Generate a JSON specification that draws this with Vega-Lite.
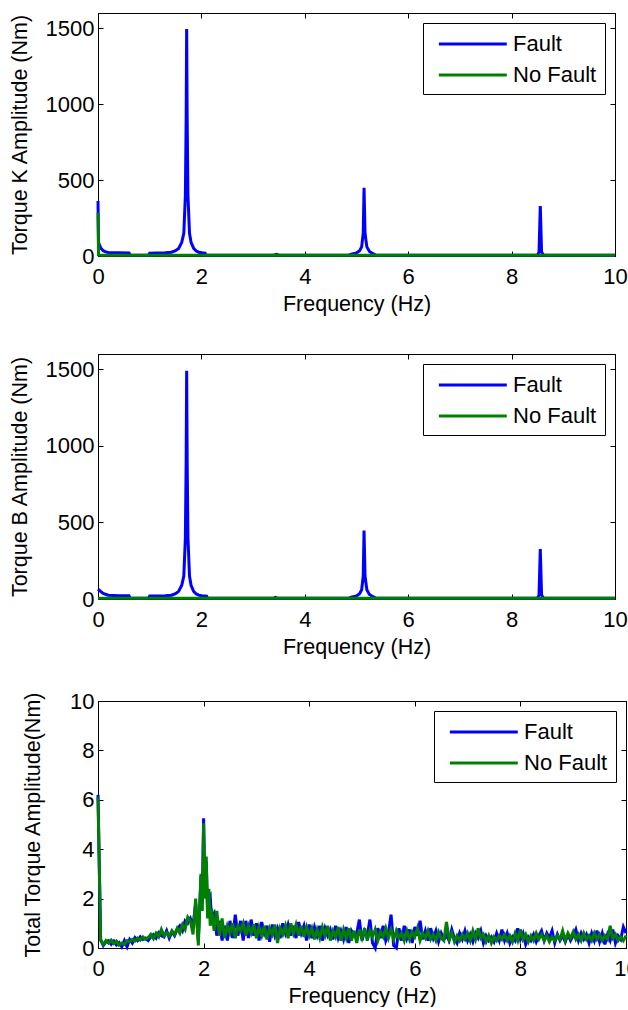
{
  "$schema": "https://vega.github.io/schema/vega-lite/v6.json",
  "background": "white",
  "padding": {"left": 8, "top": 12, "right": 0, "bottom": 0},
  "config": {
    "font": "Liberation Sans",
    "view": {"stroke": "black", "strokeWidth": 1},
    "axis": {
      "labelFont": "Liberation Sans", "titleFont": "Liberation Sans",
      "labelFontSize": 22, "titleFontSize": 21.5, "titleFontWeight": "normal",
      "labelColor": "black", "titleColor": "black",
      "domainColor": "black", "tickColor": "black", "domainWidth": 1, "tickWidth": 1,
      "grid": false, "tickSize": -5
    },
    "axisX": {"labelPadding": 15, "titlePadding": 6, "labelFlush": false},
    "axisY": {"labelPadding": 9, "titlePadding": 14, "format": "d"},
    "legend": {
      "orient": "top-right", "offset": 10, "title": null,
      "strokeColor": "black", "fillColor": "white", "padding": 8,
      "labelFont": "Liberation Sans", "labelFontSize": 22, "labelColor": "black",
      "symbolType": "M-0.46,0H5.62", "symbolSize": 499, "symbolStrokeWidth": 3,
      "rowPadding": 7, "labelOffset": 56, "cornerRadius": 0
    },
    "line": {"strokeWidth": 3}
  },
  "columns": 1,
  "align": "none",
  "spacing": 31,
  "resolve": {"scale": {"color": "independent"}, "legend": {"color": "independent"}},
  "concat": [
    {
      "resolve": {"scale": {"color": "independent"}, "legend": {"color": "independent"}},
      "vconcat": [
        {
          "width": 517, "height": 243,
          "data": {"values": [
            {"f": 0, "Fault": 362, "No Fault": 285},
            {"f": 0.01, "Fault": 90, "No Fault": 8},
            {"f": 0.03, "Fault": 70, "No Fault": 6},
            {"f": 0.06, "Fault": 50, "No Fault": 5},
            {"f": 0.1, "Fault": 35, "No Fault": 5},
            {"f": 0.15, "Fault": 27, "No Fault": 5},
            {"f": 0.2, "Fault": 23, "No Fault": 5},
            {"f": 0.4, "Fault": 21, "No Fault": 5},
            {"f": 0.6, "Fault": 20, "No Fault": 5},
            {"f": 0.62, "Fault": 5, "No Fault": 5},
            {"f": 0.98, "Fault": 5, "No Fault": 5},
            {"f": 1.0, "Fault": 19, "No Fault": 5},
            {"f": 1.3, "Fault": 21, "No Fault": 5},
            {"f": 1.42, "Fault": 25, "No Fault": 5},
            {"f": 1.5, "Fault": 35, "No Fault": 5},
            {"f": 1.56, "Fault": 50, "No Fault": 5},
            {"f": 1.62, "Fault": 90, "No Fault": 5},
            {"f": 1.66, "Fault": 150, "No Fault": 5},
            {"f": 1.69, "Fault": 400, "No Fault": 5},
            {"f": 1.705, "Fault": 900, "No Fault": 5},
            {"f": 1.715, "Fault": 1495, "No Fault": 5},
            {"f": 1.725, "Fault": 900, "No Fault": 5},
            {"f": 1.74, "Fault": 400, "No Fault": 5},
            {"f": 1.77, "Fault": 150, "No Fault": 5},
            {"f": 1.8, "Fault": 90, "No Fault": 5},
            {"f": 1.85, "Fault": 50, "No Fault": 5},
            {"f": 1.9, "Fault": 33, "No Fault": 5},
            {"f": 1.95, "Fault": 25, "No Fault": 5},
            {"f": 2.0, "Fault": 21, "No Fault": 5},
            {"f": 2.07, "Fault": 19, "No Fault": 5},
            {"f": 2.09, "Fault": 5, "No Fault": 5},
            {"f": 3.4, "Fault": 5, "No Fault": 5},
            {"f": 3.45, "Fault": 11, "No Fault": 5},
            {"f": 3.5, "Fault": 5, "No Fault": 5},
            {"f": 4.85, "Fault": 5, "No Fault": 5},
            {"f": 4.9, "Fault": 12, "No Fault": 5},
            {"f": 5.0, "Fault": 20, "No Fault": 5},
            {"f": 5.06, "Fault": 35, "No Fault": 5},
            {"f": 5.1, "Fault": 60, "No Fault": 5},
            {"f": 5.13, "Fault": 150, "No Fault": 5},
            {"f": 5.146, "Fault": 449, "No Fault": 5},
            {"f": 5.165, "Fault": 150, "No Fault": 5},
            {"f": 5.2, "Fault": 60, "No Fault": 5},
            {"f": 5.25, "Fault": 30, "No Fault": 5},
            {"f": 5.32, "Fault": 15, "No Fault": 5},
            {"f": 5.38, "Fault": 5, "No Fault": 5},
            {"f": 8.5, "Fault": 5, "No Fault": 5},
            {"f": 8.53, "Fault": 25, "No Fault": 5},
            {"f": 8.555, "Fault": 329, "No Fault": 5},
            {"f": 8.58, "Fault": 25, "No Fault": 5},
            {"f": 8.62, "Fault": 5, "No Fault": 5},
            {"f": 10, "Fault": 5, "No Fault": 5}
          ]},
          "transform": [{"fold": ["Fault", "No Fault"], "as": ["series", "amp"]}],
          "layer": [
            {
              "mark": {"type": "line", "strokeWidth": 3},
              "encoding": {
                "x": {"field": "f", "type": "quantitative", "scale": {"domain": [0, 10], "nice": false}, "axis": {"title": "Frequency (Hz)", "values": [0, 2, 4, 6, 8, 10]}},
                "y": {"field": "amp", "type": "quantitative", "scale": {"domain": [0, 1600], "nice": false}, "axis": {"title": "Torque K Amplitude (Nm)", "values": [0, 500, 1000, 1500]}},
                "color": {"field": "series", "type": "nominal", "scale": {"domain": ["Fault", "No Fault"], "range": ["#0000ff", "#008000"]}}
              }
            },
            {
              "mark": {"type": "line", "opacity": 0},
              "encoding": {
                "x": {"field": "f", "type": "quantitative", "axis": {"orient": "top", "labels": false, "title": null, "values": [0, 2, 4, 6, 8, 10]}},
                "y": {"field": "amp", "type": "quantitative", "axis": {"orient": "right", "labels": false, "title": null, "values": [0, 500, 1000, 1500]}},
                "detail": {"field": "series"}
              }
            }
          ],
          "resolve": {"axis": {"x": "independent", "y": "independent"}}
        },
        {
          "width": 517, "height": 245,
          "data": {"values": [
            {"f": 0, "Fault": 65, "No Fault": 5},
            {"f": 0.05, "Fault": 50, "No Fault": 5},
            {"f": 0.1, "Fault": 36, "No Fault": 5},
            {"f": 0.2, "Fault": 25, "No Fault": 5},
            {"f": 0.4, "Fault": 22, "No Fault": 5},
            {"f": 0.6, "Fault": 21, "No Fault": 5},
            {"f": 0.62, "Fault": 5, "No Fault": 5},
            {"f": 0.98, "Fault": 5, "No Fault": 5},
            {"f": 1.0, "Fault": 20, "No Fault": 5},
            {"f": 1.3, "Fault": 21, "No Fault": 5},
            {"f": 1.42, "Fault": 25, "No Fault": 5},
            {"f": 1.5, "Fault": 35, "No Fault": 5},
            {"f": 1.56, "Fault": 50, "No Fault": 5},
            {"f": 1.62, "Fault": 90, "No Fault": 5},
            {"f": 1.66, "Fault": 150, "No Fault": 5},
            {"f": 1.69, "Fault": 400, "No Fault": 5},
            {"f": 1.705, "Fault": 900, "No Fault": 5},
            {"f": 1.715, "Fault": 1491, "No Fault": 5},
            {"f": 1.725, "Fault": 900, "No Fault": 5},
            {"f": 1.74, "Fault": 400, "No Fault": 5},
            {"f": 1.77, "Fault": 150, "No Fault": 5},
            {"f": 1.8, "Fault": 90, "No Fault": 5},
            {"f": 1.85, "Fault": 50, "No Fault": 5},
            {"f": 1.9, "Fault": 33, "No Fault": 5},
            {"f": 1.95, "Fault": 25, "No Fault": 5},
            {"f": 2.0, "Fault": 21, "No Fault": 5},
            {"f": 2.1, "Fault": 19, "No Fault": 5},
            {"f": 2.12, "Fault": 5, "No Fault": 5},
            {"f": 3.4, "Fault": 5, "No Fault": 5},
            {"f": 3.43, "Fault": 10, "No Fault": 5},
            {"f": 3.47, "Fault": 5, "No Fault": 5},
            {"f": 4.85, "Fault": 5, "No Fault": 5},
            {"f": 4.9, "Fault": 12, "No Fault": 5},
            {"f": 5.0, "Fault": 20, "No Fault": 5},
            {"f": 5.06, "Fault": 35, "No Fault": 5},
            {"f": 5.1, "Fault": 60, "No Fault": 5},
            {"f": 5.13, "Fault": 150, "No Fault": 5},
            {"f": 5.146, "Fault": 447, "No Fault": 5},
            {"f": 5.165, "Fault": 150, "No Fault": 5},
            {"f": 5.2, "Fault": 60, "No Fault": 5},
            {"f": 5.25, "Fault": 30, "No Fault": 5},
            {"f": 5.32, "Fault": 15, "No Fault": 5},
            {"f": 5.38, "Fault": 5, "No Fault": 5},
            {"f": 8.5, "Fault": 5, "No Fault": 5},
            {"f": 8.53, "Fault": 25, "No Fault": 5},
            {"f": 8.555, "Fault": 327, "No Fault": 5},
            {"f": 8.58, "Fault": 25, "No Fault": 5},
            {"f": 8.62, "Fault": 5, "No Fault": 5},
            {"f": 10, "Fault": 5, "No Fault": 5}
          ]},
          "transform": [{"fold": ["Fault", "No Fault"], "as": ["series", "amp"]}],
          "layer": [
            {
              "mark": {"type": "line", "strokeWidth": 3},
              "encoding": {
                "x": {"field": "f", "type": "quantitative", "scale": {"domain": [0, 10], "nice": false}, "axis": {"title": "Frequency (Hz)", "values": [0, 2, 4, 6, 8, 10]}},
                "y": {"field": "amp", "type": "quantitative", "scale": {"domain": [0, 1600], "nice": false}, "axis": {"title": "Torque B Amplitude (Nm)", "values": [0, 500, 1000, 1500]}},
                "color": {"field": "series", "type": "nominal", "scale": {"domain": ["Fault", "No Fault"], "range": ["#0000ff", "#008000"]}}
              }
            },
            {
              "mark": {"type": "line", "opacity": 0},
              "encoding": {
                "x": {"field": "f", "type": "quantitative", "axis": {"orient": "top", "labels": false, "title": null, "values": [0, 2, 4, 6, 8, 10]}},
                "y": {"field": "amp", "type": "quantitative", "axis": {"orient": "right", "labels": false, "title": null, "values": [0, 500, 1000, 1500]}},
                "detail": {"field": "series"}
              }
            }
          ],
          "resolve": {"axis": {"x": "independent", "y": "independent"}}
        }
      ],
      "spacing": 38
    },
    {
      "width": 528, "height": 247,
      "data": {"values": [
        {"f": 0, "Fault": 6.2, "No Fault": 6.1},
        {"f": 0.05, "Fault": 0.35, "No Fault": 0.3},
        {"f": 0.1, "Fault": 0.1, "No Fault": 0.15},
        {"f": 0.15, "Fault": 0.25, "No Fault": 0.3},
        {"f": 0.2, "Fault": 0.3, "No Fault": 0.2},
        {"f": 0.25, "Fault": 0.15, "No Fault": 0.32},
        {"f": 0.3, "Fault": 0.28, "No Fault": 0.18},
        {"f": 0.35, "Fault": 0.12, "No Fault": 0.28},
        {"f": 0.4, "Fault": 0.22, "No Fault": 0.12},
        {"f": 0.45, "Fault": 0.05, "No Fault": 0.2},
        {"f": 0.5, "Fault": 0.3, "No Fault": 0.15},
        {"f": 0.55, "Fault": 0.05, "No Fault": 0.3},
        {"f": 0.6, "Fault": 0.35, "No Fault": 0.25},
        {"f": 0.65, "Fault": 0.2, "No Fault": 0.35},
        {"f": 0.7, "Fault": 0.42, "No Fault": 0.28},
        {"f": 0.75, "Fault": 0.3, "No Fault": 0.4},
        {"f": 0.8, "Fault": 0.45, "No Fault": 0.32},
        {"f": 0.85, "Fault": 0.35, "No Fault": 0.45},
        {"f": 0.9, "Fault": 0.4, "No Fault": 0.35},
        {"f": 0.95, "Fault": 0.3, "No Fault": 0.42},
        {"f": 1.0, "Fault": 0.45, "No Fault": 0.55},
        {"f": 1.05, "Fault": 0.55, "No Fault": 0.38},
        {"f": 1.1, "Fault": 0.4, "No Fault": 0.6},
        {"f": 1.15, "Fault": 0.62, "No Fault": 0.45},
        {"f": 1.2, "Fault": 0.5, "No Fault": 0.75},
        {"f": 1.25, "Fault": 0.45, "No Fault": 0.5},
        {"f": 1.3, "Fault": 0.7, "No Fault": 0.62},
        {"f": 1.35, "Fault": 0.4, "No Fault": 0.48},
        {"f": 1.4, "Fault": 0.65, "No Fault": 0.7},
        {"f": 1.45, "Fault": 0.5, "No Fault": 0.55},
        {"f": 1.5, "Fault": 0.75, "No Fault": 0.8},
        {"f": 1.55, "Fault": 0.9, "No Fault": 0.6},
        {"f": 1.6, "Fault": 0.7, "No Fault": 0.95},
        {"f": 1.65, "Fault": 1.1, "No Fault": 0.75},
        {"f": 1.7, "Fault": 1.0, "No Fault": 1.25},
        {"f": 1.75, "Fault": 1.2, "No Fault": 1.1},
        {"f": 1.8, "Fault": 0.9, "No Fault": 0.55},
        {"f": 1.85, "Fault": 1.8, "No Fault": 2.0},
        {"f": 1.9, "Fault": 0.3, "No Fault": 0.1},
        {"f": 1.95, "Fault": 2.9, "No Fault": 3.0},
        {"f": 1.975, "Fault": 1.8, "No Fault": 1.5},
        {"f": 2.0, "Fault": 5.25, "No Fault": 5.05},
        {"f": 2.025, "Fault": 2.3, "No Fault": 2.0},
        {"f": 2.05, "Fault": 3.5, "No Fault": 3.7},
        {"f": 2.075, "Fault": 1.6, "No Fault": 1.2},
        {"f": 2.1, "Fault": 2.0, "No Fault": 2.4},
        {"f": 2.125, "Fault": 2.1, "No Fault": 0.9},
        {"f": 2.15, "Fault": 1.2, "No Fault": 1.6},
        {"f": 2.2, "Fault": 1.4, "No Fault": 0.7},
        {"f": 2.25, "Fault": 0.5, "No Fault": 1.5},
        {"f": 2.3, "Fault": 1.1, "No Fault": 0.5},
        {"f": 2.35, "Fault": 0.3, "No Fault": 1.2},
        {"f": 2.4, "Fault": 0.9, "No Fault": 0.4},
        {"f": 2.45, "Fault": 0.3, "No Fault": 0.9},
        {"f": 2.5, "Fault": 1.1, "No Fault": 0.6},
        {"f": 2.55, "Fault": 0.4, "No Fault": 1.0},
        {"f": 2.6, "Fault": 1.35, "No Fault": 0.4},
        {"f": 2.65, "Fault": 0.5, "No Fault": 0.9},
        {"f": 2.7, "Fault": 1.1, "No Fault": 0.7},
        {"f": 2.75, "Fault": 0.3, "No Fault": 1.0},
        {"f": 2.8, "Fault": 1.1, "No Fault": 0.5},
        {"f": 2.85, "Fault": 0.4, "No Fault": 0.9},
        {"f": 2.9, "Fault": 1.15, "No Fault": 0.6},
        {"f": 2.95, "Fault": 0.5, "No Fault": 0.95},
        {"f": 3.0, "Fault": 1.0, "No Fault": 0.4},
        {"f": 3.05, "Fault": 0.3, "No Fault": 0.85},
        {"f": 3.1, "Fault": 1.05, "No Fault": 0.5},
        {"f": 3.15, "Fault": 0.6, "No Fault": 0.9},
        {"f": 3.2, "Fault": 0.9, "No Fault": 0.35},
        {"f": 3.25, "Fault": 0.25, "No Fault": 0.8},
        {"f": 3.3, "Fault": 0.95, "No Fault": 0.55},
        {"f": 3.35, "Fault": 0.5, "No Fault": 0.95},
        {"f": 3.4, "Fault": 0.8, "No Fault": 0.2},
        {"f": 3.45, "Fault": 0.4, "No Fault": 0.8},
        {"f": 3.5, "Fault": 1.0, "No Fault": 0.55},
        {"f": 3.55, "Fault": 0.6, "No Fault": 0.9},
        {"f": 3.6, "Fault": 0.95, "No Fault": 0.4},
        {"f": 3.65, "Fault": 0.5, "No Fault": 1.0},
        {"f": 3.7, "Fault": 0.9, "No Fault": 0.6},
        {"f": 3.75, "Fault": 0.4, "No Fault": 0.95},
        {"f": 3.8, "Fault": 1.05, "No Fault": 0.5},
        {"f": 3.85, "Fault": 0.6, "No Fault": 0.9},
        {"f": 3.9, "Fault": 0.9, "No Fault": 0.45},
        {"f": 3.95, "Fault": 0.3, "No Fault": 0.85},
        {"f": 4.0, "Fault": 0.95, "No Fault": 0.5},
        {"f": 4.05, "Fault": 0.4, "No Fault": 0.8},
        {"f": 4.1, "Fault": 0.85, "No Fault": 0.35},
        {"f": 4.15, "Fault": 0.5, "No Fault": 0.75},
        {"f": 4.2, "Fault": 0.9, "No Fault": 0.4},
        {"f": 4.25, "Fault": 0.3, "No Fault": 0.85},
        {"f": 4.3, "Fault": 0.8, "No Fault": 0.5},
        {"f": 4.35, "Fault": 0.5, "No Fault": 0.9},
        {"f": 4.4, "Fault": 0.75, "No Fault": 0.3},
        {"f": 4.45, "Fault": 0.35, "No Fault": 0.7},
        {"f": 4.5, "Fault": 0.9, "No Fault": 0.45},
        {"f": 4.55, "Fault": 0.4, "No Fault": 0.85},
        {"f": 4.6, "Fault": 0.7, "No Fault": 0.3},
        {"f": 4.65, "Fault": 0.35, "No Fault": 0.75},
        {"f": 4.7, "Fault": 0.85, "No Fault": 0.4},
        {"f": 4.75, "Fault": 0.2, "No Fault": 0.8},
        {"f": 4.8, "Fault": 0.7, "No Fault": 0.3},
        {"f": 4.85, "Fault": 0.5, "No Fault": 0.7},
        {"f": 4.9, "Fault": 0.6, "No Fault": 0.2},
        {"f": 4.95, "Fault": 1.15, "No Fault": 0.75},
        {"f": 5.0, "Fault": 0.3, "No Fault": 0.4},
        {"f": 5.05, "Fault": 0.7, "No Fault": 0.8},
        {"f": 5.1, "Fault": 0.5, "No Fault": 0.3},
        {"f": 5.15, "Fault": 1.15, "No Fault": 0.7},
        {"f": 5.2, "Fault": 0.2, "No Fault": 0.45},
        {"f": 5.25, "Fault": 0.0, "No Fault": 0.75},
        {"f": 5.3, "Fault": 0.8, "No Fault": 0.3},
        {"f": 5.35, "Fault": 0.4, "No Fault": 0.65},
        {"f": 5.4, "Fault": 0.9, "No Fault": 0.45},
        {"f": 5.45, "Fault": 0.3, "No Fault": 0.8},
        {"f": 5.5, "Fault": 0.6, "No Fault": 0.4},
        {"f": 5.55, "Fault": 1.35, "No Fault": 0.75},
        {"f": 5.6, "Fault": 0.1, "No Fault": 0.35},
        {"f": 5.65, "Fault": 0.0, "No Fault": 0.7},
        {"f": 5.7, "Fault": 0.8, "No Fault": 0.4},
        {"f": 5.75, "Fault": 0.3, "No Fault": 0.6},
        {"f": 5.8, "Fault": 0.9, "No Fault": 0.3},
        {"f": 5.85, "Fault": 0.4, "No Fault": 0.7},
        {"f": 5.9, "Fault": 0.75, "No Fault": 0.35},
        {"f": 5.95, "Fault": 0.2, "No Fault": 0.65},
        {"f": 6.0, "Fault": 0.85, "No Fault": 0.45},
        {"f": 6.05, "Fault": 0.5, "No Fault": 0.8},
        {"f": 6.1, "Fault": 1.1, "No Fault": 0.3},
        {"f": 6.15, "Fault": 0.35, "No Fault": 0.6},
        {"f": 6.2, "Fault": 0.7, "No Fault": 0.4},
        {"f": 6.25, "Fault": 0.3, "No Fault": 0.7},
        {"f": 6.3, "Fault": 0.8, "No Fault": 0.35},
        {"f": 6.35, "Fault": 0.4, "No Fault": 0.55},
        {"f": 6.4, "Fault": 0.7, "No Fault": 0.3},
        {"f": 6.45, "Fault": 0.25, "No Fault": 0.65},
        {"f": 6.5, "Fault": 0.6, "No Fault": 0.4},
        {"f": 6.55, "Fault": 0.35, "No Fault": 0.3},
        {"f": 6.6, "Fault": 0.5, "No Fault": 1.05},
        {"f": 6.65, "Fault": 0.3, "No Fault": 0.35},
        {"f": 6.7, "Fault": 0.75, "No Fault": 0.6},
        {"f": 6.75, "Fault": 0.4, "No Fault": 0.25},
        {"f": 6.8, "Fault": 0.2, "No Fault": 0.5},
        {"f": 6.85, "Fault": 0.6, "No Fault": 0.3},
        {"f": 6.9, "Fault": 0.35, "No Fault": 0.55},
        {"f": 6.95, "Fault": 0.7, "No Fault": 0.35},
        {"f": 7.0, "Fault": 0.3, "No Fault": 0.6},
        {"f": 7.05, "Fault": 0.55, "No Fault": 0.3},
        {"f": 7.1, "Fault": 0.25, "No Fault": 0.7},
        {"f": 7.15, "Fault": 0.6, "No Fault": 0.35},
        {"f": 7.2, "Fault": 0.4, "No Fault": 0.8},
        {"f": 7.25, "Fault": 0.7, "No Fault": 0.4},
        {"f": 7.3, "Fault": 0.2, "No Fault": 0.55},
        {"f": 7.35, "Fault": 0.5, "No Fault": 0.25},
        {"f": 7.4, "Fault": 0.3, "No Fault": 0.5},
        {"f": 7.45, "Fault": 0.45, "No Fault": 0.2},
        {"f": 7.5, "Fault": 0.25, "No Fault": 0.45},
        {"f": 7.55, "Fault": 0.6, "No Fault": 0.3},
        {"f": 7.6, "Fault": 0.3, "No Fault": 0.5},
        {"f": 7.65, "Fault": 0.75, "No Fault": 0.35},
        {"f": 7.7, "Fault": 0.3, "No Fault": 0.55},
        {"f": 7.75, "Fault": 0.6, "No Fault": 0.3},
        {"f": 7.8, "Fault": 0.2, "No Fault": 0.5},
        {"f": 7.85, "Fault": 0.45, "No Fault": 0.25},
        {"f": 7.9, "Fault": 0.3, "No Fault": 0.6},
        {"f": 7.95, "Fault": 0.8, "No Fault": 0.3},
        {"f": 8.0, "Fault": 0.35, "No Fault": 0.75},
        {"f": 8.05, "Fault": 0.6, "No Fault": 0.35},
        {"f": 8.1, "Fault": 0.15, "No Fault": 0.55},
        {"f": 8.15, "Fault": 0.45, "No Fault": 0.25},
        {"f": 8.2, "Fault": 0.3, "No Fault": 0.5},
        {"f": 8.25, "Fault": 0.55, "No Fault": 0.3},
        {"f": 8.3, "Fault": 0.25, "No Fault": 0.6},
        {"f": 8.35, "Fault": 0.5, "No Fault": 0.35},
        {"f": 8.4, "Fault": 0.7, "No Fault": 0.55},
        {"f": 8.45, "Fault": 0.3, "No Fault": 0.3},
        {"f": 8.5, "Fault": 0.6, "No Fault": 0.5},
        {"f": 8.55, "Fault": 0.4, "No Fault": 0.25},
        {"f": 8.6, "Fault": 0.7, "No Fault": 0.45},
        {"f": 8.65, "Fault": 0.2, "No Fault": 0.3},
        {"f": 8.7, "Fault": 0.55, "No Fault": 0.5},
        {"f": 8.75, "Fault": 0.3, "No Fault": 0.35},
        {"f": 8.8, "Fault": 0.5, "No Fault": 0.7},
        {"f": 8.85, "Fault": 0.25, "No Fault": 0.3},
        {"f": 8.9, "Fault": 0.55, "No Fault": 0.6},
        {"f": 8.95, "Fault": 0.3, "No Fault": 0.4},
        {"f": 9.0, "Fault": 0.5, "No Fault": 0.65},
        {"f": 9.05, "Fault": 0.75, "No Fault": 0.35},
        {"f": 9.1, "Fault": 0.3, "No Fault": 0.55},
        {"f": 9.15, "Fault": 0.6, "No Fault": 0.3},
        {"f": 9.2, "Fault": 0.35, "No Fault": 0.6},
        {"f": 9.25, "Fault": 0.55, "No Fault": 0.35},
        {"f": 9.3, "Fault": 0.2, "No Fault": 0.5},
        {"f": 9.35, "Fault": 0.6, "No Fault": 0.3},
        {"f": 9.4, "Fault": 0.3, "No Fault": 0.6},
        {"f": 9.45, "Fault": 0.7, "No Fault": 0.35},
        {"f": 9.5, "Fault": 0.25, "No Fault": 0.55},
        {"f": 9.55, "Fault": 0.6, "No Fault": 0.3},
        {"f": 9.6, "Fault": 0.15, "No Fault": 0.5},
        {"f": 9.65, "Fault": 0.55, "No Fault": 0.35},
        {"f": 9.7, "Fault": 0.3, "No Fault": 0.9},
        {"f": 9.75, "Fault": 0.75, "No Fault": 0.4},
        {"f": 9.8, "Fault": 0.2, "No Fault": 0.55},
        {"f": 9.85, "Fault": 0.5, "No Fault": 0.3},
        {"f": 9.9, "Fault": 0.35, "No Fault": 0.45},
        {"f": 9.95, "Fault": 0.85, "No Fault": 0.3},
        {"f": 10.0, "Fault": 0.6, "No Fault": 0.5}
      ]},
      "transform": [{"fold": ["Fault", "No Fault"], "as": ["series", "amp"]}],
      "layer": [
        {
          "mark": {"type": "line", "strokeWidth": 3},
          "encoding": {
            "x": {"field": "f", "type": "quantitative", "scale": {"domain": [0, 10], "nice": false}, "axis": {"title": "Frequency (Hz)", "values": [0, 2, 4, 6, 8, 10]}},
            "y": {"field": "amp", "type": "quantitative", "scale": {"domain": [0, 10], "nice": false}, "axis": {"title": "Total Torque Amplitude(Nm)", "values": [0, 2, 4, 6, 8, 10], "titlePadding": 25}},
            "color": {"field": "series", "type": "nominal", "scale": {"domain": ["Fault", "No Fault"], "range": ["#0000ff", "#008000"]}}
          }
        },
        {
          "mark": {"type": "line", "opacity": 0},
          "encoding": {
            "x": {"field": "f", "type": "quantitative", "axis": {"orient": "top", "labels": false, "title": null, "values": [0, 2, 4, 6, 8, 10]}},
            "y": {"field": "amp", "type": "quantitative", "axis": {"orient": "right", "labels": false, "title": null, "values": [0, 2, 4, 6, 8, 10]}},
            "detail": {"field": "series"}
          }
        }
      ],
      "resolve": {"axis": {"x": "independent", "y": "independent"}}
    }
  ]
}
